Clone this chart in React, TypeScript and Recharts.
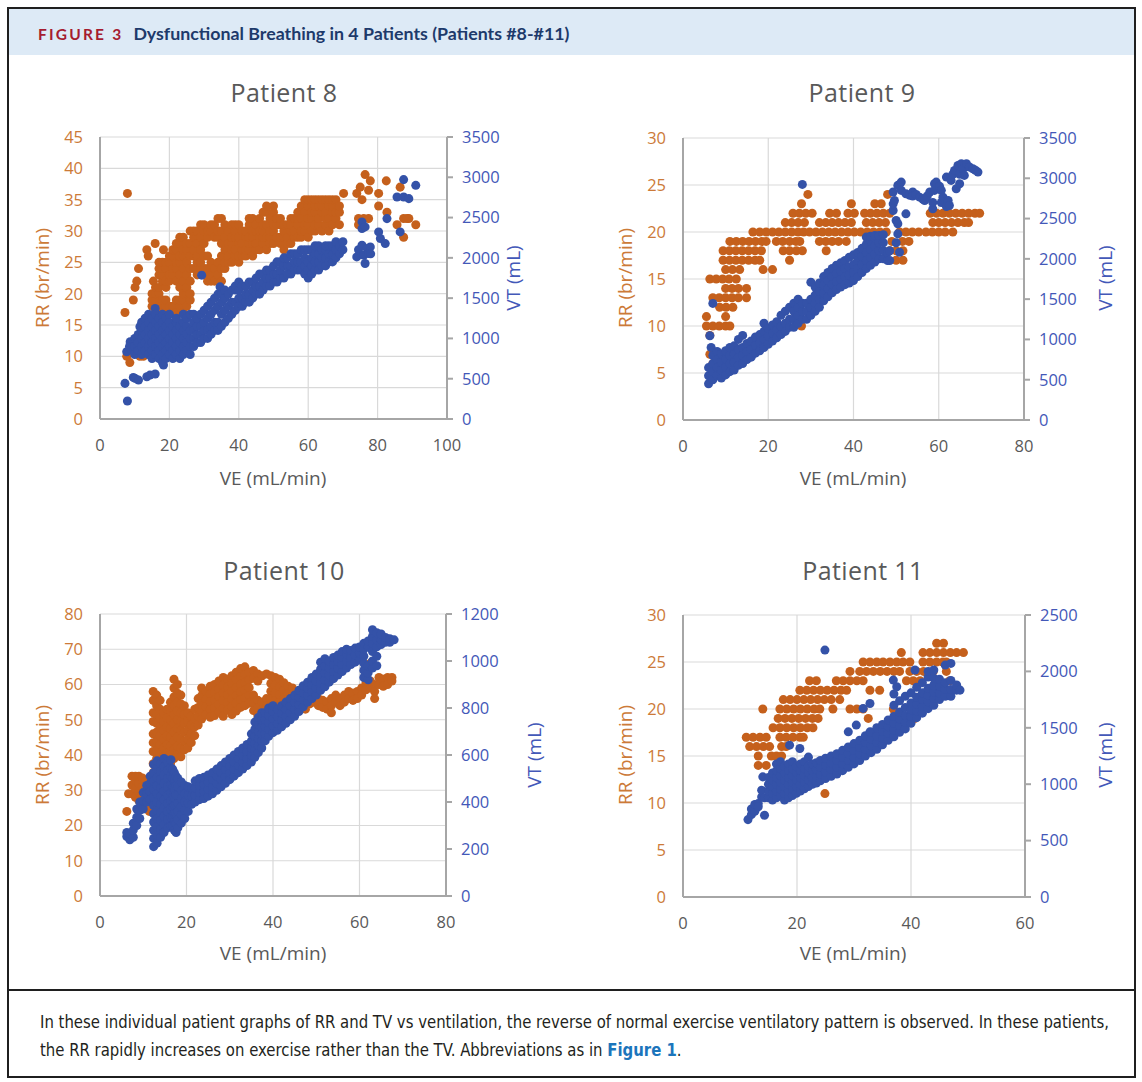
import { ScatterChart, Scatter, XAxis, YAxis, ZAxis, CartesianGrid } from 'recharts';

// colours taken from the figure
const ORANGE = '#c5601c';
const BLUE = '#3452a8';
const ORANGE_TXT = '#cc7a38';
const BLUE_TXT = '#4358b8';
const GRAY = '#595959';
const AXIS = '#a6a6a6';
const GRID = '#d9d9d9';
const FONT = '"Open Sans", "Noto Sans", sans-serif';

// ---------- Patient 8 ----------
const p8VeTicks = [0, 20, 40, 60, 80, 100];
const p8RrTicks = [0, 5, 10, 15, 20, 25, 30, 35, 40, 45];
const p8VtTicks = [0, 500, 1000, 1500, 2000, 2500, 3000, 3500];
// [VE, RR, RR, ...]
const p8Rr = [
  [7.2, 17], [7.7, 10], [7.9, 36], [8.6, 9], [9.6, 19], [10.1, 21], [10.6, 22], [11.1, 24],
  [11.5, 10], [12, 11], [12.5, 10], [12.8, 14], [13.2, 15], [13.5, 27], [13.9, 26, 16],
  [14.8, 16], [15.4, 22, 15], [15.9, 28],
  [15, 18, 19, 20], [16, 17, 19, 20, 21], [17, 18, 20, 21, 23, 24, 25], [18, 17, 19, 22, 23, 24, 25],
  [18.3, 27], [19, 16, 18, 19, 21, 22, 24, 25], [20, 17, 18, 22, 23, 25, 26], [21, 18, 23, 24, 26, 27],
  [22, 17, 19, 22, 24, 25, 27, 28], [23, 18, 19, 21, 23, 25, 26, 28, 29],
  [24, 17, 19, 20, 22, 24, 26, 27, 29], [25, 18, 20, 21, 23, 25, 27, 28], [26, 19, 20, 22, 24, 26, 28, 30],
  [27, 24, 26, 27, 29, 30], [28, 23, 25, 26, 28, 30], [29, 24, 25, 27, 29, 31], [30, 23, 24, 26, 28, 30, 31],
  [31, 22, 24, 26, 29, 30], [32, 22, 23, 25, 30, 31], [33, 22, 24, 29, 31], [34, 23, 25, 29, 30, 32],
  [35, 22, 24, 26, 28, 30, 32], [36, 24, 25, 27, 29, 31], [37, 25, 26, 28, 30], [38, 25, 27, 28, 29, 31],
  [39, 26, 27, 29, 30, 31], [40, 25, 26, 28, 29, 31], [41, 26, 27, 28, 30], [42, 26, 27, 29, 30],
  [43, 27, 28, 29, 31, 32], [44, 26, 28, 29, 30, 32], [45, 27, 28, 30, 31], [46, 27, 29, 30, 32],
  [47, 28, 29, 30, 31, 33], [48, 27, 29, 31, 33, 34], [49, 28, 29, 30, 32], [50, 28, 30, 31, 33, 34],
  [51, 29, 31, 32], [52, 28, 29, 31, 32], [53, 27, 29, 30, 31], [54, 28, 29, 31], [55, 28, 30, 31, 32],
  [56, 29, 30, 32], [57, 29, 31, 32, 33], [58, 29, 30, 32, 34], [59, 30, 31, 33, 35],
  [60, 29, 31, 32, 34, 35], [61, 30, 32, 33, 35], [62, 30, 31, 33, 34, 35], [63, 31, 32, 34, 35],
  [64, 30, 33, 34, 35], [65, 31, 32, 33, 35], [66, 30, 32, 34, 35], [67, 31, 33, 34, 35],
  [68, 32, 33, 35], [69, 31, 33, 34], [70.2, 36],
  [74, 36], [75, 37], [76.4, 39], [77.9, 38], [77.4, 36.5], [75.5, 35], [74.5, 32, 31], [76, 32],
  [77.4, 32], [80.3, 36, 34], [82.5, 38], [82.7, 33], [85.6, 31], [87.5, 29, 32], [86.5, 37],
  [88.5, 32], [89, 32], [91, 31],
];
// [VE, VT, VT, ...]
const p8Vt = [
  [7.9, 223], [7.2, 442], [9.6, 516], [10.1, 504], [11.1, 483], [13.5, 525], [14.4, 545], [15.9, 558],
  [7.7, 835], [9.1, 855], [8.7, 958], [8.5, 900], [11.5, 1145], [15.9, 1372], [29.3, 1785],
  [34.6, 1640], [18.3, 670],
  [10, 800, 900, 1000], [11, 850, 950, 1050], [12, 800, 900, 1000, 1100, 1200],
  [13, 850, 950, 1050, 1150, 1250], [14, 800, 900, 1000, 1100, 1200, 1300],
  [15, 750, 850, 950, 1050, 1150, 1250], [16, 800, 900, 1000, 1100, 1200, 1300],
  [17, 750, 850, 950, 1050, 1150, 1250], [18, 700, 800, 900, 1000, 1100, 1200, 1300],
  [19, 750, 850, 950, 1050, 1150, 1250], [20, 800, 900, 1000, 1100, 1200, 1300],
  [21, 750, 850, 950, 1050, 1150], [22, 800, 900, 1000, 1100, 1200, 1250],
  [23, 750, 850, 950, 1050, 1150], [24, 800, 900, 1000, 1100, 1200, 1300],
  [25, 850, 950, 1050, 1150, 1250], [26, 800, 900, 1000, 1100, 1300],
  [27, 900, 1000, 1100, 1200, 1300], [28, 950, 1050, 1150, 1250], [29, 950, 1050, 1150, 1300],
  [30, 1000, 1100, 1200, 1350], [31, 1000, 1100, 1250, 1400], [32, 1050, 1150, 1300, 1450],
  [33, 1100, 1200, 1350, 1500], [34, 1100, 1200, 1400, 1550], [35, 1150, 1300, 1450, 1550],
  [36, 1200, 1350, 1500, 1600], [37, 1250, 1400, 1550], [38, 1300, 1450, 1600],
  [39, 1350, 1450, 1600, 1650], [40, 1400, 1500, 1600, 1700], [41, 1400, 1500, 1650],
  [42, 1450, 1550, 1650], [43, 1450, 1550, 1700], [44, 1500, 1600, 1700], [45, 1550, 1650, 1750],
  [46, 1550, 1650, 1800], [47, 1600, 1700, 1800], [48, 1650, 1750, 1850], [49, 1650, 1750, 1850],
  [50, 1700, 1800, 1900], [51, 1700, 1800, 1950], [52, 1750, 1850, 1950], [53, 1750, 1900, 2000],
  [54, 1800, 1900, 2000], [55, 1800, 1900, 2050], [56, 1850, 1950, 2050], [57, 1850, 1950, 2050],
  [58, 1850, 1950, 2100], [59, 1800, 1900, 2000, 2100], [60, 1750, 1850, 1950, 2100],
  [61, 1800, 1900, 2000, 2100], [62, 1850, 1950, 2050, 2150], [63, 1850, 1950, 2050, 2150],
  [64, 1900, 2000, 2100], [65, 1900, 2000, 2100, 2150], [66, 1950, 2050, 2150],
  [67, 1950, 2050, 2150], [68, 2000, 2100, 2200], [69, 2050, 2150], [70, 2100, 2200],
  [74, 2012], [74.5, 2100], [75.5, 2446, 2363, 2157], [76.4, 2384, 1930], [77, 2115], [77.9, 2136],
  [76, 2033], [77.4, 2053], [78, 2050], [80.3, 2322], [80.8, 2240], [82.2, 2177], [82.7, 2487],
  [86.5, 2322], [85.6, 2756], [87.5, 2756, 2971], [89, 2735], [91, 2900],
];

// ---------- Patient 9 ----------
const p9VeTicks = [0, 20, 40, 60, 80];
const p9RrTicks = [0, 5, 10, 15, 20, 25, 30];
const p9VtTicks = [0, 500, 1000, 1500, 2000, 2500, 3000, 3500];
// [RR, VE, VE, ...] (breath rate is whole numbers)
const p9Rr = [
  [24, 29.3, 48],
  [23, 27.8, 39.5, 45, 46.5],
  [22, 25.8, 27.3, 28.8, 30.3, 34.4, 36, 38.7, 40.2, 42.6, 44, 45.5, 47, 48.5, 58, 59.5, 61, 62.5, 64, 65.5, 67, 68.5, 69.6],
  [21, 24, 25.5, 27, 28.5, 32, 33.5, 35, 36.5, 38, 39.5, 43, 44.5, 46, 47.5, 58.6, 60, 61.5, 63, 64.5, 66, 67],
  [20, 16.4, 18, 19.5, 21, 22.5, 24, 25.5, 27, 28.3, 29.7, 31.2, 32.7, 34.2, 35.7, 37.2, 38.7, 40.2, 41.7, 43.2, 44.7, 46.2, 47.7, 50.8, 52.3, 53.8, 55.3, 57, 58.5, 60, 61.5, 63.3],
  [19, 11, 12.5, 14, 15.5, 17, 18.5, 19.5, 21.9, 23.4, 25, 26.5, 27.4, 32, 33.5, 35, 36.5, 38.3, 49, 51.5, 53],
  [18, 9.4, 10.9, 12.4, 13.9, 15.4, 16.9, 18.4, 23.5, 25, 26.6, 28, 33.6, 48.5, 50, 51.6],
  [17, 9.4, 10.9, 12.4, 13.9, 15.4, 16.9, 18, 25, 50, 51.6],
  [16, 10, 11.6, 13.3, 18.8, 21],
  [15, 6.3, 7.8, 9.3, 10.8, 12.5],
  [14, 10, 11.5, 13, 14.9],
  [13, 7, 8.5, 10, 11.5, 13, 14.9],
  [12, 8.6, 10.1, 11.7],
  [11, 5.5, 10],
  [10, 5.5, 7, 8.5, 10, 11, 27.8],
  [9, 6.3],
  [7, 6.3],
  [6, 7],
];
// [VE, VT, VT, ...]
const p9Vt = [
  [6, 450, 550, 650], [6.3, 1045], [6.6, 900], [7, 500, 600, 700, 800, 1447], [8, 550, 650, 750, 850],
  [9, 520, 620, 720, 820], [10, 560, 660, 760, 860], [11, 600, 700, 800, 900], [12, 620, 720, 820, 920],
  [13, 680, 780, 880, 1000], [14, 700, 800, 900, 1050], [15, 750, 850, 950], [16, 780, 880, 980],
  [17, 830, 930, 1030], [18, 860, 960, 1060], [19, 900, 1000, 1100, 1200], [20, 940, 1040, 1140],
  [21, 980, 1080, 1180], [22, 1020, 1120, 1220], [23, 1060, 1160, 1300], [24, 1100, 1200, 1350],
  [25, 1150, 1250, 1400], [26, 1150, 1250, 1350, 1450], [27, 1200, 1300, 1400, 1500],
  [28, 1250, 1350, 1450, 2924], [29, 1250, 1350, 1450],
  [30, 1300, 1400, 1500, 1709], [31, 1350, 1450, 1550, 1650], [32, 1400, 1500, 1600, 1700],
  [33, 1480, 1580, 1680, 1780], [34, 1530, 1630, 1730, 1830], [35, 1580, 1680, 1780, 1880],
  [36, 1620, 1720, 1820, 1920], [37, 1650, 1750, 1850, 1950], [38, 1680, 1780, 1880, 1980],
  [39, 1700, 1800, 1900, 2020], [40, 1730, 1830, 1930, 2050], [41, 1780, 1880, 1980, 2080],
  [42, 1830, 1930, 2030, 2130], [43, 1880, 1980, 2080, 2180, 2270], [44, 1920, 2020, 2120, 2220, 2280],
  [45, 1960, 2060, 2160, 2260, 2290], [46, 2000, 2100, 2200, 2290], [47, 2000, 2100, 2200, 2300],
  [48, 1980, 2080], [48.5, 2100, 1980], [49.3, 2600, 2829, 2683], [49.6, 2725], [50, 2476, 2200],
  [50.4, 2912, 2435, 2310], [50.8, 2082], [51.2, 2953, 2850], [52.3, 2808, 2559], [53.2, 2790],
  [53.9, 2829, 2780], [54.7, 2800], [55.5, 2766], [56.3, 2740], [56.7, 2725], [57.3, 2780],
  [57.9, 2829], [58.6, 2621, 2700], [59, 2932, 2850], [59.4, 2953], [60.2, 2900], [60.6, 2850, 2700],
  [61, 2766], [61.8, 3015, 2650], [62.2, 2725], [62.5, 2663], [62.9, 2974], [63.3, 3050], [63.7, 3098],
  [64.1, 2870], [64.5, 3160], [64.9, 2932, 3050], [65.3, 3181], [65.7, 3119], [66, 3036], [66.5, 3181],
  [67.2, 3140], [68, 3119], [68.6, 3100], [69.2, 3077],
];

// ---------- Patient 10 ----------
const p10VeTicks = [0, 20, 40, 60, 80];
const p10RrTicks = [0, 10, 20, 30, 40, 50, 60, 70, 80];
const p10VtTicks = [0, 200, 400, 600, 800, 1000, 1200];
const p10Rr = [
  [6.2, 24], [6.6, 29], [7.4, 29, 31.5, 34], [8.2, 28, 30.5, 33, 34], [9, 27, 29.5, 32, 34],
  [9.8, 26, 28.5, 31, 33.5], [10.6, 25, 27.5, 30, 32.5], [11.4, 24, 26.5, 29, 31.5],
  [12.3, 58, 55.5, 52, 49.5, 46, 43.5, 41, 37.5, 35], [13.1, 57, 54, 51.5, 49, 46.5, 44, 41.5, 39, 36.5],
  [13.9, 55.5, 53, 50.5, 48, 45.5, 43, 40.5, 38], [14.7, 52, 49.5, 47, 44.5, 42, 39.5, 37],
  [15.5, 53, 50.5, 48, 45.5, 43, 40.5, 38], [16.3, 55, 52.5, 50, 47.5, 45, 42.5, 40, 37.5],
  [17.1, 61.5, 59, 56.5, 54, 51.5, 49, 46.5, 44, 41.5, 39], [17.9, 60, 57.5, 55, 52.5, 50, 47.5, 45, 42.5, 40],
  [18.7, 57, 54.5, 52, 49.5, 47, 44.5, 42, 39.5], [19.5, 54, 51.5, 49, 46.5, 44, 41.5],
  [20.3, 52, 49.5, 47, 44.5, 42], [21.1, 51, 48.5, 46, 43.5], [21.9, 53, 50.5, 48, 45.5],
  [22.7, 56, 53.5, 51, 48.5],
  [23.5, 59, 56.8, 54.6, 52.4, 50.2], [24.5, 58, 55.8, 53.6, 51.4], [25.5, 59.5, 57.3, 55.1, 52.9, 50.7],
  [26.5, 60, 57.8, 55.6, 53.4, 51.2], [27.5, 61, 58.8, 56.6, 54.4, 52.2], [28.5, 62, 59.8, 57.6, 55.4, 53.2, 51],
  [29.5, 61.5, 59.3, 57.1, 54.9, 52.7], [30.5, 62.5, 60.3, 58.1, 55.9, 53.7, 51.5],
  [31.5, 63.5, 61.3, 59.1, 56.9, 54.7, 52.5], [32.5, 64.5, 62.3, 60.1, 57.9, 55.7, 53.5],
  [33.5, 65, 62.8, 60.6, 58.4, 56.2, 54], [34.5, 63.5, 61.3, 59.1, 56.9, 54.7],
  [35.5, 64, 61.8, 57, 54.8, 52.6], [36.5, 63, 61, 55.5, 53.3, 51.1], [37.5, 62.5, 55, 52.8, 50.6, 49],
  [38.5, 63, 56, 53.8, 51.6], [39.5, 62.5, 60.3, 58.1, 55.9, 53.7], [40.5, 62, 59.8, 57.6, 55.4],
  [41.5, 61.5, 59.3, 57.1, 54.9], [42.5, 60.5, 58.3, 56.1], [43.5, 59.5, 57.3, 55.1], [44.5, 59, 56.8, 54.6],
  [45.5, 58, 55.8, 53.6],
  [46.5, 56, 54], [47.5, 57, 55, 53], [48.5, 56.5, 54.5], [49.5, 57, 55], [50.5, 56, 54], [51.5, 55.5, 53.5],
  [52.5, 55, 53], [53.5, 56, 54, 52], [54.5, 57, 55], [55.5, 56, 54], [56.5, 57, 55], [57.5, 58, 56],
  [58.5, 57.5, 55.5], [59.5, 58, 56], [60.5, 59, 57], [61.5, 60.5, 58.5, 64], [62.5, 61, 59, 66],
  [63.5, 60, 58, 56], [64.5, 62, 60], [65.5, 61.5, 59.5], [66.5, 62, 60], [67.5, 62, 61],
];
const p10Vt = [
  [6.2, 253, 270], [6.9, 239, 265], [7.7, 250, 281, 310], [8.5, 300, 335, 370], [9.2, 330, 365, 400],
  [10, 370, 405, 440], [10.8, 400, 435, 470], [11.6, 480, 445, 410, 510],
  [12.4, 210, 245, 280, 315, 350, 385, 420, 455, 490, 525, 560],
  [13.2, 225, 260, 295, 330, 365, 400, 435, 470, 505, 540, 575],
  [14, 250, 285, 320, 355, 390, 425, 460, 495, 530, 565],
  [14.8, 270, 305, 340, 375, 410, 445, 480, 515, 550, 585],
  [15.6, 290, 325, 360, 395, 430, 465, 500, 535, 570], [16.4, 300, 335, 370, 405, 440, 475, 510, 545, 580],
  [16.8, 300, 340, 380, 420, 460, 500, 540], [17.2, 280, 315, 350, 385, 420, 455, 490, 525],
  [17.6, 270, 310, 350, 390, 430, 470, 510], [18, 290, 325, 360, 395, 430, 465, 500],
  [18.8, 310, 345, 380, 415, 450, 485], [19.6, 330, 365, 400, 435, 470], [20.4, 360, 395, 430, 465],
  [21.2, 390, 425, 460],
  [22, 400, 430, 460, 490], [23, 410, 440, 470, 500], [24, 415, 445, 475, 505], [25, 425, 455, 485, 515],
  [26, 435, 465, 495, 525], [27, 450, 480, 510, 540], [28, 465, 495, 525, 555], [29, 480, 510, 540, 570],
  [30, 495, 525, 555, 585], [31, 510, 540, 570, 600], [32, 525, 555, 585, 615], [33, 540, 570, 600, 630],
  [34, 555, 585, 615, 645], [35, 570, 600, 630, 660, 690], [35.8, 590, 620, 650, 680, 710, 740],
  [36.6, 610, 640, 670, 700, 730, 760], [37.4, 630, 660, 690, 720, 750, 780], [38.2, 660, 690, 720, 750, 780],
  [39, 680, 710, 740, 770, 800], [40, 695, 725, 755, 785, 810], [41, 705, 735, 765, 795],
  [42, 720, 750, 780, 810], [43, 735, 765, 795, 825], [44, 750, 780, 810, 840], [45, 765, 795, 825, 855],
  [46, 785, 815, 845, 875], [47, 805, 835, 865, 895], [48, 825, 855, 885, 910], [49, 840, 870, 900, 930],
  [50, 855, 885, 915, 945], [51, 875, 905, 935, 965, 995], [52, 890, 920, 950, 980, 1010],
  [53, 910, 940, 970, 1000], [54, 925, 955, 985, 1015], [55, 940, 970, 1000, 1025], [56, 955, 985, 1015, 1040],
  [57, 970, 1000, 1030, 1050], [58, 985, 1015, 1045], [59, 995, 1025, 1055], [60, 1005, 1035, 1060],
  [61, 930, 960, 990, 1020, 1050, 1075], [62, 920, 950, 980, 1060, 1085], [63, 970, 1000, 1040, 1076, 1105, 1133],
  [64, 980, 1020, 1060, 1090, 1120], [65, 1070, 1090, 1115], [66, 1080, 1100], [67, 1080, 1095], [68, 1090],
];

// ---------- Patient 11 ----------
const p11VeTicks = [0, 20, 40, 60];
const p11RrTicks = [0, 5, 10, 15, 20, 25, 30];
const p11VtTicks = [0, 500, 1000, 1500, 2000, 2500];
const p11Rr = [
  [27, 44.5, 45.7],
  [26, 38.3, 42.1, 43.3, 44.5, 45.7, 46.9, 48, 49.2],
  [25, 31.6, 32.8, 34, 35.1, 36.3, 37.5, 38.6, 39.8, 42.1, 43.3, 44.5, 45.6, 46.2],
  [24, 29.3, 31, 32.2, 33.4, 34.6, 35.8, 37, 38, 39.8, 41, 42.2, 43.9, 46.2],
  [23, 22.2, 23.4, 26.9, 28.1, 29.3, 30.5, 31.6, 39.2, 40.4, 41.6, 46.8],
  [22, 20.5, 21.7, 22.9, 24.1, 25.3, 26.5, 27.7, 28.7, 32.8, 34.5],
  [21, 17.6, 18.8, 20, 21.2, 22.4, 23.6, 24.8, 26, 27.5],
  [20, 14, 17, 18.2, 19.4, 20.6, 21.8, 23, 24, 26.3, 29.3, 30.5, 31.6, 36.9, 40.9],
  [19, 16.7, 17.9, 19.1, 20.3, 21.5, 22.7, 23.7, 32.5, 40.7],
  [18, 15.8, 17, 18.2, 19.4, 20.6, 21.8, 22.8],
  [17, 11.1, 12.3, 13.5, 14.6, 17, 18.1, 19.3, 20.5, 21.1],
  [16, 11.7, 12.9, 14.1, 15.2, 17.3, 18.1],
  [15, 13.2, 15.5, 16.4, 17.3],
  [14, 13.2, 14.6],
  [11, 24.9],
];
const p11Vt = [
  [11.4, 686], [12, 730, 780], [12.6, 760, 820], [13.2, 828, 800], [13.8, 887, 947], [14, 1065], [14.3, 725, 880],
  [15, 880, 940, 1000, 1060], [15.7, 860, 920, 980, 1040, 1100], [16.4, 880, 940, 1000, 1060, 1120, 1180],
  [17.1, 900, 960, 1020, 1080, 1140, 1200], [17.8, 860, 920, 980, 1040, 1100, 1160],
  [18.5, 880, 940, 1000, 1060, 1120, 1180], [18.7, 1346], [19.2, 900, 960, 1020, 1080, 1140, 1200],
  [19.9, 920, 980, 1040, 1100, 1160], [20.5, 1317], [20.6, 940, 1000, 1060, 1120, 1180],
  [21.3, 960, 1020, 1080, 1140, 1200], [22, 980, 1040, 1100, 1160, 1240], [22.7, 1000, 1060, 1120, 1180],
  [23.4, 1010, 1070, 1130, 1190], [24.1, 1030, 1090, 1150, 1210], [24.9, 2189],
  [25, 1050, 1110, 1170, 1230], [26, 1070, 1130, 1190, 1250], [27, 1090, 1150, 1210, 1270],
  [28, 1120, 1180, 1240, 1300], [29, 1150, 1210, 1270, 1330, 1464], [30, 1180, 1240, 1300, 1360],
  [30.4, 1524], [31, 1210, 1270, 1330, 1390], [31.6, 1672], [32, 1250, 1310, 1370, 1430], [32.8, 1716, 1464],
  [33, 1280, 1340, 1400, 1460], [34, 1310, 1370, 1430, 1500], [35, 1350, 1410, 1470, 1530],
  [36, 1390, 1450, 1510, 1570], [36.9, 1923], [37, 1420, 1480, 1540, 1600, 1700, 1800], [37.5, 1864],
  [38, 1460, 1520, 1580, 1640, 1740], [39, 1490, 1550, 1610, 1680, 1780], [40, 1540, 1600, 1660, 1720, 1810],
  [40.7, 2012], [41, 1590, 1650, 1710, 1770, 1860], [42, 1630, 1690, 1750, 1810, 1900],
  [43, 1670, 1730, 1790, 1850, 1950, 2000], [44, 1700, 1760, 1820, 1880, 1940, 2012],
  [45, 1750, 1810, 1870, 1930], [46, 1780, 1840, 1900, 2056], [47, 1780, 1840, 1920, 2071],
  [48, 1834, 1880], [48.6, 1834],
];

type Key = 'rr' | 'vt';
// [ve, y, y, ...]
const fromCols = (cols: number[][], key: Key) =>
  cols.flatMap(([ve, ...ys]) => ys.map((y) => ({ ve, [key]: y })));
// [y, ve, ve, ...]
const fromRows = (rows: number[][], key: Key) =>
  rows.flatMap(([y, ...ves]) => ves.map((ve) => ({ ve, [key]: y })));

const centered = {
  position: 'absolute' as const,
  transform: 'translate(-50%, -50%)',
  whiteSpace: 'nowrap' as const,
  fontFamily: FONT,
  lineHeight: 1,
};

interface PanelProps {
  l: number; r: number; t: number; b: number;
  title: string; titleX: number; titleY: number;
  veX: number; veY: number; rrX: number; vtX: number; midY: number;
  veTicks: number[]; rrTicks: number[]; vtTicks: number[];
  rr: { ve: number }[]; vt: { ve: number }[];
}

function Panel(p: PanelProps) {
  const width = p.r - p.l + 180;
  const height = p.b - p.t + 80;
  const veMax = p.veTicks[p.veTicks.length - 1];
  const rrMax = p.rrTicks[p.rrTicks.length - 1];
  const vtMax = p.vtTicks[p.vtTicks.length - 1];
  return (
    <>
      <div style={{ ...centered, left: p.titleX, top: p.titleY, fontSize: 25, color: GRAY, letterSpacing: 0.4 }}>
        {p.title}
      </div>
      <div style={{ position: 'absolute', left: p.l - 80, top: p.t - 20 }}>
        <ScatterChart width={width} height={height} margin={{ top: 20, right: 0, bottom: 0, left: 0 }}>
          <CartesianGrid xAxisId="ve" yAxisId="rr" stroke={GRID} strokeWidth={1.2} />
          <XAxis
            xAxisId="ve"
            type="number"
            dataKey="ve"
            domain={[0, veMax]}
            ticks={p.veTicks}
            interval={0}
            height={60}
            axisLine={{ stroke: AXIS, strokeWidth: 2 }}
            tickLine={false}
            tickSize={0}
            tickMargin={20}
            tick={{ fill: GRAY, fontSize: 16.5, fontFamily: FONT }}
          />
          <YAxis
            yAxisId="rr"
            orientation="left"
            type="number"
            dataKey="rr"
            domain={[0, rrMax]}
            ticks={p.rrTicks}
            interval={0}
            width={80}
            axisLine={{ stroke: AXIS, strokeWidth: 2 }}
            tickLine={false}
            tickSize={0}
            tickMargin={17}
            tick={{ fill: ORANGE_TXT, fontSize: 16.5, fontFamily: FONT }}
          />
          <YAxis
            yAxisId="vt"
            orientation="right"
            type="number"
            dataKey="vt"
            domain={[0, vtMax]}
            ticks={p.vtTicks}
            interval={0}
            width={100}
            axisLine={{ stroke: AXIS, strokeWidth: 2 }}
            tickLine={{ stroke: AXIS, strokeWidth: 2 }}
            tickSize={6}
            tickMargin={9}
            tick={{ fill: BLUE_TXT, fontSize: 16.5, fontFamily: FONT }}
          />
          <ZAxis range={[70, 70]} />
          <Scatter xAxisId="ve" yAxisId="rr" data={p.rr} fill={ORANGE} isAnimationActive={false} />
          <Scatter xAxisId="ve" yAxisId="vt" data={p.vt} fill={BLUE} isAnimationActive={false} />
        </ScatterChart>
      </div>
      <div style={{ ...centered, left: p.veX, top: p.veY, fontSize: 19, color: GRAY }}>VE (mL/min)</div>
      <div style={{ ...centered, left: p.rrX, top: p.midY, fontSize: 19, color: ORANGE_TXT, transform: 'translate(-50%, -50%) rotate(-90deg)' }}>
        RR (br/min)
      </div>
      <div style={{ ...centered, left: p.vtX, top: p.midY, fontSize: 19, color: BLUE_TXT, transform: 'translate(-50%, -50%) rotate(-90deg)' }}>
        VT (mL)
      </div>
    </>
  );
}

export default function App() {
  return (
    <div style={{ position: 'absolute', left: 0, top: 0, width: 1142, height: 1082, background: '#fff' }}>
      <div style={{ position: 'absolute', left: 7, top: 7, width: 1129, height: 1071, border: '2px solid #1f1f1f', boxSizing: 'border-box' }} />
      <div style={{ position: 'absolute', left: 9, top: 9, width: 1125, height: 46, background: '#ddeaf6' }} />
      <div style={{ position: 'absolute', left: 38, top: 22, fontFamily: 'Lato, sans-serif', fontWeight: 700, fontSize: 17.8, lineHeight: '22px', whiteSpace: 'nowrap' }}>
        <span style={{ color: '#a51c30', letterSpacing: 2.2, fontSize: 15.5 }}>FIGURE 3</span>
        <span style={{ color: '#1d3a6b', marginLeft: 10 }}>Dysfunctional Breathing in 4 Patients (Patients #8-#11)</span>
      </div>

      <Panel
        l={100} r={447} t={137} b={419}
        title="Patient 8" titleX={284} titleY={92}
        veX={273} veY={478} rrX={42} vtX={513} midY={278}
        veTicks={p8VeTicks} rrTicks={p8RrTicks} vtTicks={p8VtTicks}
        rr={fromCols(p8Rr, 'rr')} vt={fromCols(p8Vt, 'vt')}
      />
      <Panel
        l={683} r={1024} t={138} b={420}
        title="Patient 9" titleX={862} titleY={92}
        veX={853} veY={478} rrX={625} vtX={1105} midY={278}
        veTicks={p9VeTicks} rrTicks={p9RrTicks} vtTicks={p9VtTicks}
        rr={fromRows(p9Rr, 'rr')} vt={fromCols(p9Vt, 'vt')}
      />
      <Panel
        l={100} r={446} t={614} b={896}
        title="Patient 10" titleX={284} titleY={570}
        veX={273} veY={953} rrX={42} vtX={534} midY={755}
        veTicks={p10VeTicks} rrTicks={p10RrTicks} vtTicks={p10VtTicks}
        rr={fromCols(p10Rr, 'rr')} vt={fromCols(p10Vt, 'vt')}
      />
      <Panel
        l={683} r={1025} t={615} b={897}
        title="Patient 11" titleX={863} titleY={570}
        veX={853} veY={953} rrX={625} vtX={1105} midY={755}
        veTicks={p11VeTicks} rrTicks={p11RrTicks} vtTicks={p11VtTicks}
        rr={fromRows(p11Rr, 'rr')} vt={fromCols(p11Vt, 'vt')}
      />

      <div style={{ position: 'absolute', left: 7, top: 989, width: 1129, height: 2, background: '#1f1f1f' }} />
      <div style={{ position: 'absolute', left: 40, top: 1008, transform: 'scaleX(0.92)', transformOrigin: 'left top', fontFamily: '"Liberation Sans Narrow", "DejaVu Sans Condensed", sans-serif', fontSize: 18, lineHeight: '28px', color: '#231f20', whiteSpace: 'nowrap' }}>
        In these individual patient graphs of RR and TV vs ventilation, the reverse of normal exercise ventilatory pattern is observed. In these patients,
        <br />
        the RR rapidly increases on exercise rather than the TV. Abbreviations as in{' '}
        <span style={{ color: '#1b75bc', fontWeight: 700 }}>Figure 1</span>.
      </div>
    </div>
  );
}
